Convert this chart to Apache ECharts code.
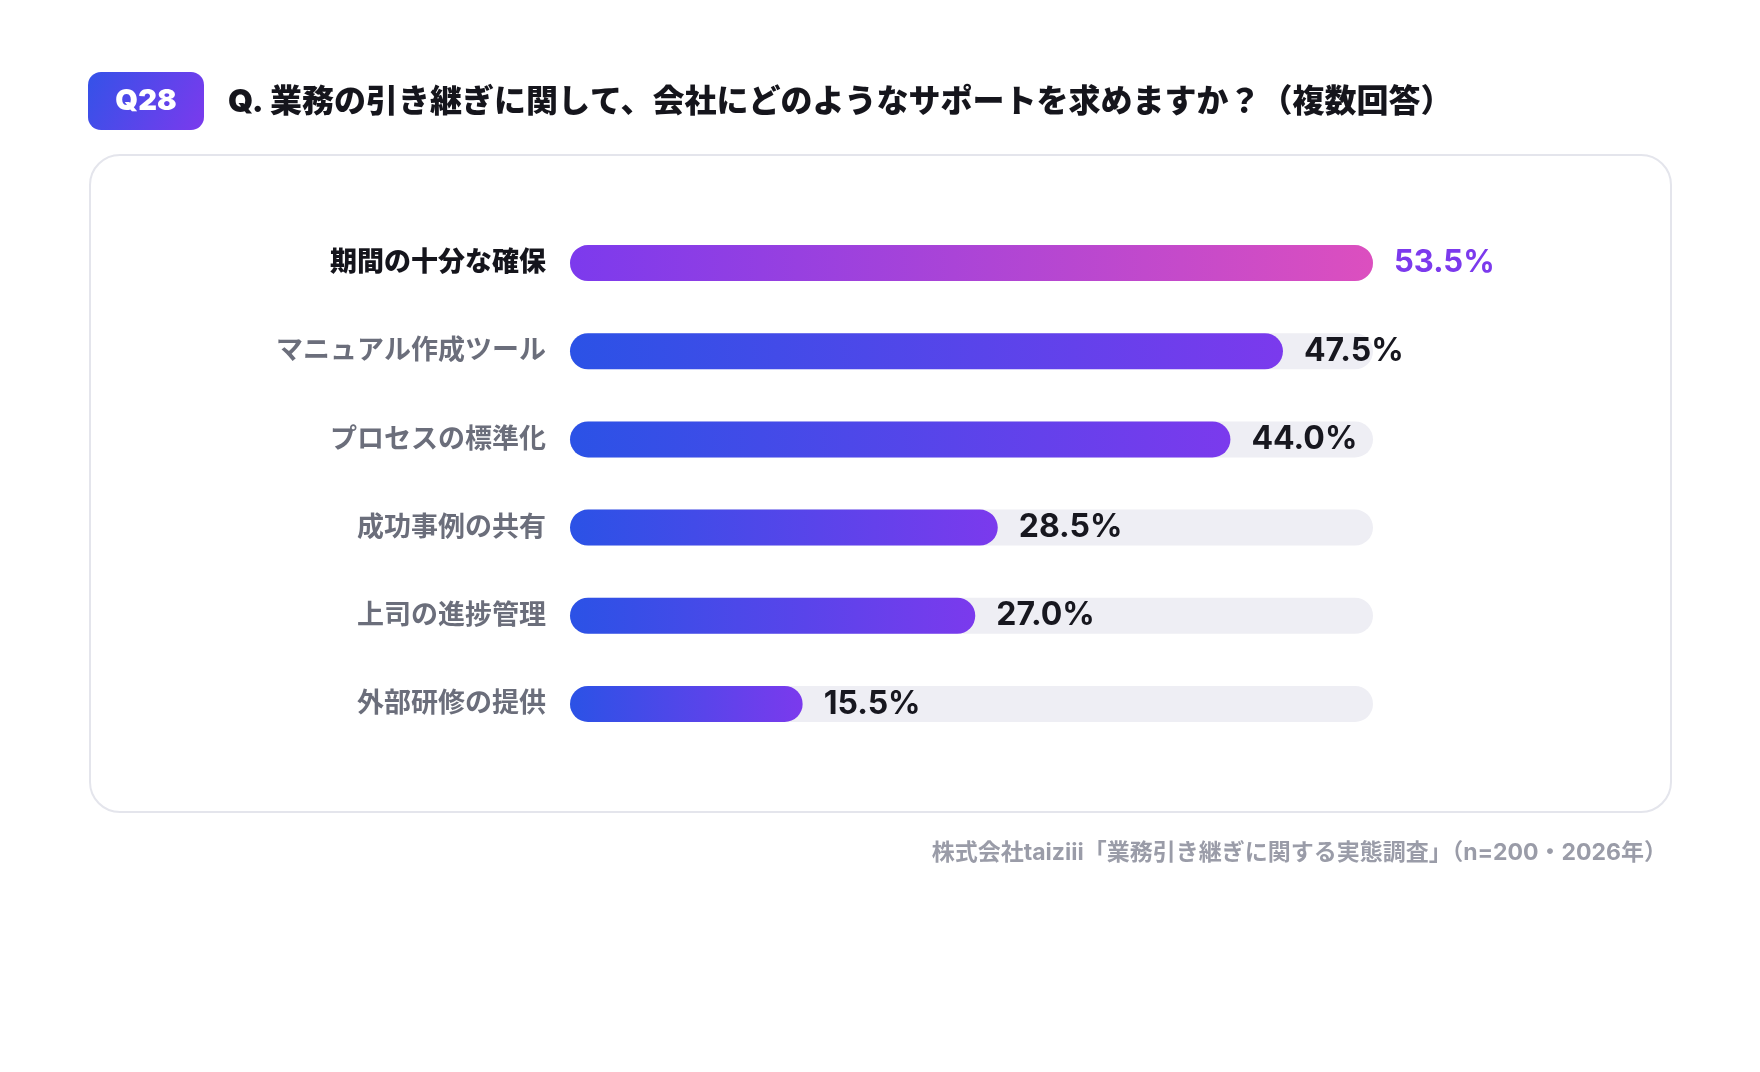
<!DOCTYPE html>
<html>
<head>
<meta charset="utf-8">
<script src="https://cdn.jsdelivr.net/npm/echarts@6/dist/echarts.min.js"></script>
<style>
  html, body { margin: 0; padding: 0; background: #fff; }
  #chart { width: 1760px; height: 1072px; }
</style>
</head>
<body>
<div id="chart"></div>
<script>
// Q28 survey bars
var categories = ['期間の十分な確保', 'マニュアル作成ツール', 'プロセスの標準化', '成功事例の共有', '上司の進捗管理', '外部研修の提供'];
var values = [53.5, 47.5, 44.0, 28.5, 27.0, 15.5];

var badgeText = 'Q28';
var titleText = 'Q. 業務の引き継ぎに関して、会社にどのようなサポートを求めますか？（複数回答）';
var sourceText = '株式会社taiziii「業務引き継ぎに関する実態調査」（n=200・2026年）';

var FONT = 'Inter, "Noto Sans CJK JP", sans-serif';

function barColor(i) {
  if (i === 0) {
    return new echarts.graphic.LinearGradient(0, 0, 1, 0, [
      { offset: 0, color: '#7c3aed' }, { offset: 1, color: '#dc4fbf' }
    ]);
  }
  return new echarts.graphic.LinearGradient(0, 0, 1, 0, [
    { offset: 0, color: '#2b52e6' }, { offset: 1, color: '#7b3aed' }
  ]);
}

var chart = echarts.init(document.getElementById('chart'));
chart.setOption({
  backgroundColor: '#ffffff',
  animation: false,
  graphic: [
    // card
    {
      type: 'rect', z: -10,
      shape: { x: 90, y: 155, width: 1581, height: 657, r: 30 },
      style: { fill: '#ffffff', stroke: '#e4e5ec', lineWidth: 2 }
    },
    // badge
    {
      type: 'rect',
      shape: { x: 88, y: 72, width: 116, height: 58, r: 13 },
      style: {
        fill: new echarts.graphic.LinearGradient(0, 0, 1, 1, [
          { offset: 0, color: '#3452e8' }, { offset: 1, color: '#7b3aed' }
        ])
      }
    },
    {
      type: 'text', x: 146, y: 101,
      style: {
        text: badgeText, fill: '#ffffff', font: '900 29px ' + FONT,
        align: 'center', verticalAlign: 'middle'
      }
    },
    {
      type: 'text', x: 228, y: 102,
      style: {
        text: titleText, fill: '#15151c', font: '900 32px ' + FONT,
        align: 'left', verticalAlign: 'middle'
      }
    },
    {
      type: 'text', x: 1667, y: 853,
      style: {
        text: sourceText, fill: '#9a9ca8', font: 'bold 23px ' + FONT,
        align: 'right', verticalAlign: 'middle'
      }
    }
  ],
  grid: { left: 570, right: 387, top: 219, bottom: 324, containLabel: false },
  xAxis: {
    type: 'value', min: 0, max: function (v) { return v.max; },
    show: false
  },
  yAxis: {
    type: 'category', inverse: true, data: categories,
    axisLine: { show: false }, axisTick: { show: false },
    axisLabel: {
      margin: 24,
      formatter: function (v, i) { return i === 0 ? '{hl|' + v + '}' : '{n|' + v + '}'; },
      rich: {
        hl: { fontSize: 27, fontWeight: 900, color: '#15151c', fontFamily: FONT },
        n: { fontSize: 27, fontWeight: 'bold', color: '#6b6e7b', fontFamily: FONT }
      }
    }
  },
  series: [{
    type: 'bar',
    barWidth: 36,
    showBackground: true,
    backgroundStyle: { color: '#eeeef4', borderRadius: 18 },
    data: values.map(function (v, i) {
      return {
        value: v,
        itemStyle: { color: barColor(i), borderRadius: 18 },
        label: i === 0 ? { color: '#7c3aed', fontSize: 31 } : {}
      };
    }),
    label: {
      show: true, position: 'right', distance: 21,
      fontFamily: FONT, fontWeight: 'bold', fontSize: 32, color: '#17171f',
      formatter: function (p) { return p.value.toFixed(1) + '%'; }
    }
  }]
});
</script>
</body>
</html>
